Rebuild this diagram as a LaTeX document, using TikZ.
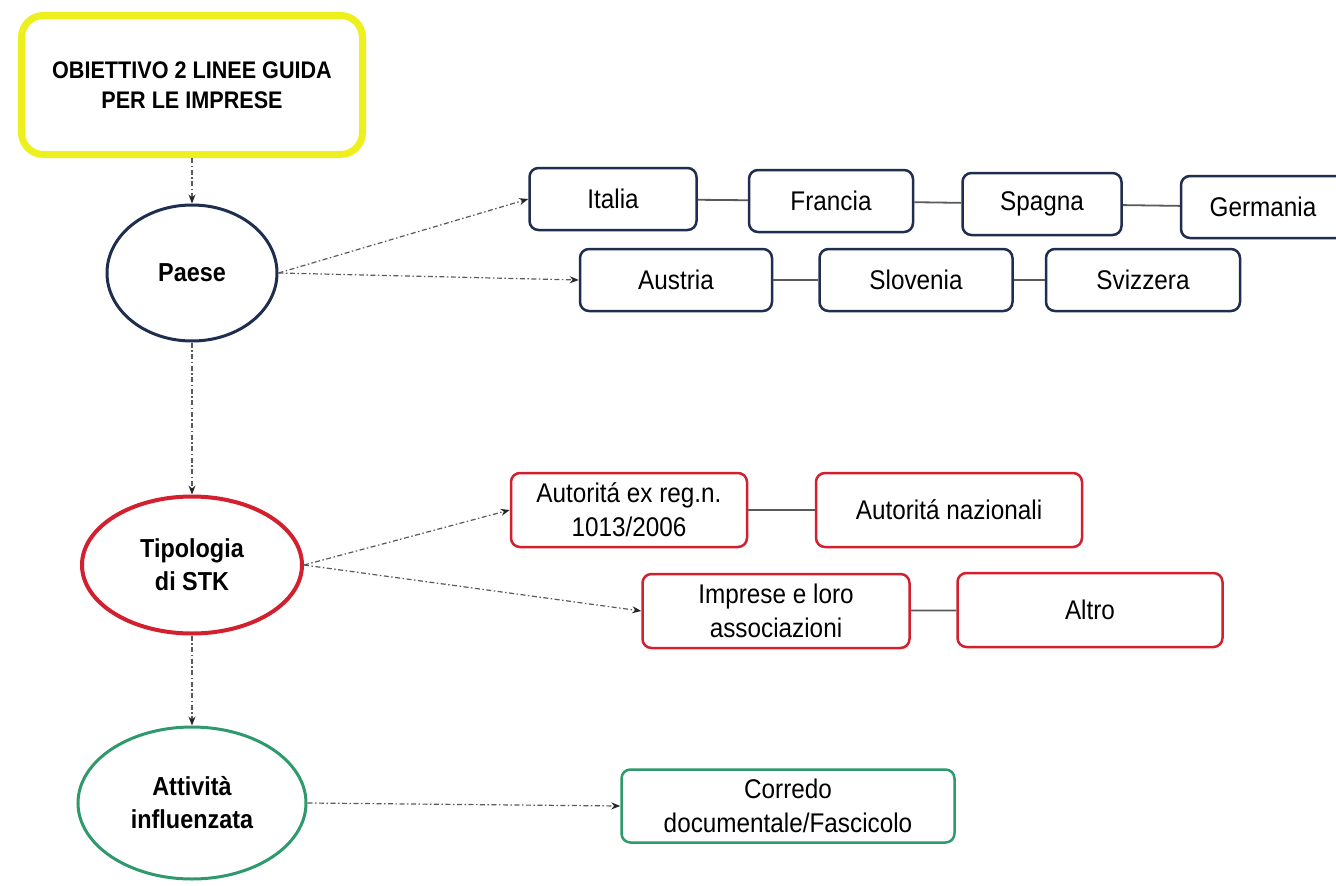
\documentclass[tikz,border=0pt]{standalone}
\usepackage{fontspec}
\setmainfont{Liberation Sans}[FakeStretch=0.9]
\usetikzlibrary{shapes.geometric,arrows.meta}

\definecolor{navy}{HTML}{1F2D4E}
\definecolor{stkred}{HTML}{D3202F}
\definecolor{stkgreen}{HTML}{2E9A6C}
\definecolor{goalyellow}{HTML}{EEF01E}
\definecolor{linkgray}{HTML}{5A5A5A}

\tikzset{
  goalbox/.style={draw=goalyellow, line width=7pt, rounded corners=22pt,
    minimum width=341pt, minimum height=139pt, align=center,
    font=\fontsize{24}{30}\selectfont\bfseries},
  topic/.style={ellipse, line width=3pt, inner sep=0pt, align=center,
    font=\fontsize{26}{33}\selectfont\bfseries},
  item/.style={draw, rounded corners=9pt, line width=2.5pt, align=center,
    inner sep=0pt, font=\fontsize{27}{34}\selectfont},
  countrybox/.style={item, draw=navy, minimum height=62pt},
  stkbox/.style={item, draw=stkred, minimum height=74pt},
  actbox/.style={item, draw=stkgreen, minimum height=73pt},
  flow/.style={draw=linkgray, line width=1.2pt,
    dash pattern=on 5pt off 2.5pt on 1.5pt off 2.5pt,
    -{Stealth[length=9pt,width=7pt,color=black!85]}},
  chain/.style={draw=linkgray, line width=1.8pt}
}

\begin{document}
\begin{tikzpicture}[x=1pt,y=-1pt]
  \useasboundingbox[fill=white] (0,0) rectangle (1336,886);

  % main column
  \node[goalbox] (goal) at (192,85) {OBIETTIVO 2 LINEE GUIDA\\PER LE IMPRESE};
  \node[topic, draw=navy, minimum width=170pt, minimum height=136pt] (paese) at (192,273) {Paese};
  \node[topic, draw=stkred, line width=4pt, minimum width=220pt, minimum height=137pt] (stk) at (192,565) {Tipologia\\di STK};
  \node[topic, draw=stkgreen, minimum width=228pt, minimum height=152pt] (att) at (192,803) {Attività\\influenzata};

  % countries
  \node[countrybox, minimum width=167pt] (italia)   at (613,199) {Italia};
  \node[countrybox, minimum width=164pt] (francia)  at (831,201) {Francia};
  \node[countrybox, minimum width=159pt] (spagna)   at (1042,204) {Spagna};
  \node[countrybox, minimum width=164pt] (germania) at (1263,207) {Germania};
  \node[countrybox, minimum width=192pt] (austria)  at (676,280) {Austria};
  \node[countrybox, minimum width=193pt] (slovenia) at (916,280) {Slovenia};
  \node[countrybox, minimum width=194pt] (svizzera) at (1143,280) {Svizzera};

  % stakeholder types
  \node[stkbox, minimum width=236pt] (aut1013) at (629,510) {Autoritá ex reg.n.\\1013/2006};
  \node[stkbox, minimum width=266pt] (autnaz)  at (949,510) {Autoritá nazionali};
  \node[stkbox, minimum width=267pt] (imprese) at (776,611) {Imprese e loro\\associazioni};
  \node[stkbox, minimum width=265pt] (altro)   at (1090,610) {Altro};

  % affected activity
  \node[actbox, minimum width=333pt] (corredo) at (788,806) {Corredo\\documentale/Fascicolo};

  % vertical flow
  \draw[flow] (goal.south) -- (paese.north);
  \draw[flow] (paese.south) -- (stk.north);
  \draw[flow] (stk.south) -- (att.north);

  % branches
  \draw[flow] (paese.east) -- (italia.west);
  \draw[flow] (paese.east) -- (austria.west);
  \draw[flow] (stk.east) -- (aut1013.west);
  \draw[flow] (stk.east) -- (imprese.west);
  \draw[flow] (att.east) -- (corredo.west);

  % chains of equal items
  \draw[chain] (italia) -- (francia);
  \draw[chain] (francia) -- (spagna);
  \draw[chain] (spagna) -- (germania);
  \draw[chain] (austria) -- (slovenia);
  \draw[chain] (slovenia) -- (svizzera);
  \draw[chain] (aut1013) -- (autnaz);
  \draw[chain] (imprese) -- (altro);
\end{tikzpicture}
\end{document}
